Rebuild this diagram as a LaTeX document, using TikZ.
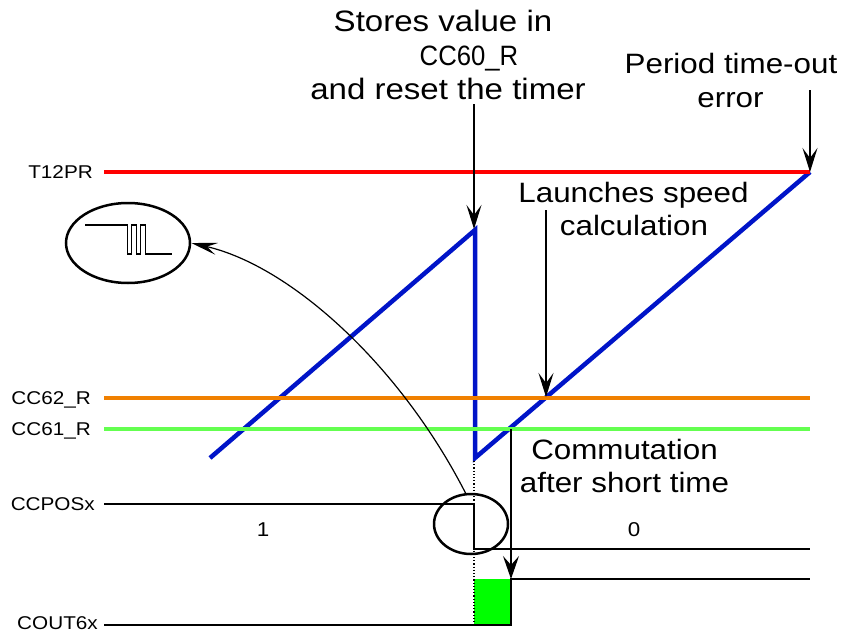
\documentclass[tikz,border=0pt]{standalone}
\usepackage{fontspec}
\setmainfont{Liberation Sans}[FakeStretch=1.12]
\usetikzlibrary{arrows.meta,shapes.geometric}
\definecolor{tred}{RGB}{255,0,0}
\definecolor{torange}{RGB}{240,128,0}
\definecolor{tgreen}{RGB}{100,255,80}
\definecolor{tblue}{RGB}{0,20,200}
\definecolor{rgreen}{RGB}{0,255,0}
\begin{document}
\begin{tikzpicture}[x=1pt,y=-1pt,
  lab/.style={anchor=base east,font=\fontsize{18.5}{22}\selectfont,inner sep=0},
  big/.style={anchor=base,font=\fontsize{29.5}{34}\selectfont,inner sep=0},
  mid/.style={anchor=base,font=\fontsize{28}{32}\selectfont,inner sep=0},
  num/.style={anchor=base,font=\fontsize{20}{24}\selectfont,inner sep=0},
  lvl/.style={line width=4pt},
  sig/.style={line width=1.2pt},
  callout/.style={line width=1.2pt,-{Stealth[length=24pt,width=15pt,inset=10pt]}},
  oval/.style={draw,ellipse,line width=2.5pt,inner sep=0}
]
\useasboundingbox (0,0) rectangle (844,632);

% ramp
\coordinate (b0) at (210,458);
\coordinate (b1) at (475,230);
\coordinate (b2) at (475,458);
\coordinate (b3) at (810,172);
\draw[line width=4.5pt,tblue] (b0) -- (b1) -- (b2) -- (b3);

% level lines
\node[lab] (lT) at (93,178) {T12PR};
\node[lab] (l62) at (91,404) {CC62\_R};
\node[lab] (l61) at (91,435) {CC61\_R};
\coordinate (t1) at (104,172); \coordinate (t2) at (810,172);
\coordinate (o1) at (104,398); \coordinate (o2) at (810,398);
\coordinate (g1) at (104,429); \coordinate (g2) at (810,429);
\draw[lvl,tred] (t1) -- (t2);
\draw[lvl,torange] (o1) -- (o2);
\draw[lvl,tgreen] (g1) -- (g2);

% signals
\node[lab] (lpos) at (95,510) {CCPOSx};
\node[lab] (lout) at (98,629.5) {COUT6x};
\coordinate (p1) at (104,504); \coordinate (p2) at (474,504);
\coordinate (p3) at (474,549); \coordinate (p4) at (810,549);
\draw[sig] (p1) -- (p2) -- (p3) -- (p4);
\coordinate (c1) at (104,625); \coordinate (c2) at (511,625);
\coordinate (c3) at (511,579); \coordinate (c4) at (810,579);
\coordinate (r1) at (474,579);
\fill[rgreen] (r1) rectangle (c2);
\draw[sig] (c1) -- (c2) -- (c3) -- (c4);
\coordinate (d1) at (474,461); \coordinate (d2) at (474,625);
\draw[line width=1.2pt,dotted] (d1) -- (d2);
\node[num] (n1) at (263,536) {1};
\node[num] (n0) at (634,536) {0};

% texts
\node[big] (s1) at (443,31.7) {Stores value in};
\node[anchor=base,inner sep=0,font=\fontsize{28}{32}\selectfont,xscale=0.82] (s2) at (469,65) {CC60\_R};
\node[big] (s3) at (448,99) {and reset the timer};
\node[mid] (e1) at (731,73) {Period time-out};
\node[mid] (e2) at (730.5,107) {error};
\node[mid] (L1) at (633.5,202) {Launches speed};
\node[mid] (L2) at (634,235) {calculation};
\node[mid] (C1) at (624.5,459) {Commutation};
\node[mid] (C2) at (624.5,492.7) {after short time};

% callout arrows
\coordinate (sa) at (474,104); \coordinate (sb) at (474,229);
\draw[callout] (sa) -- (sb);
\coordinate (ea) at (810,90); \coordinate (eb) at (810,172);
\draw[callout] (ea) -- (eb);
\coordinate (la) at (546,210); \coordinate (lb) at (546,397);
\draw[callout] (la) -- (lb);
\coordinate (ca) at (511,429); \coordinate (cb) at (511,579);
\draw[callout,-{Stealth[length=23pt,width=16pt,inset=9pt]}] (ca) -- (cb);

% ovals
\node[oval,minimum width=74pt,minimum height=60pt] (sm) at (471,524) {};
\node[oval,minimum width=124pt,minimum height=80pt] (bg) at (128,243) {};
\draw[sig] (85,225) -- (127.5,225) -- (127.5,254) -- (131.5,254) -- (131.5,225) -- (136.5,225) -- (136.5,254) -- (140.5,254) -- (140.5,225) -- (145.5,225) -- (145.5,254) -- (172,254);
\draw[sig,-{Stealth[length=26pt,width=12pt,inset=10pt]}] (sm.100) .. controls (400,365) and (291,266) .. (bg.east);
\end{tikzpicture}
\end{document}
